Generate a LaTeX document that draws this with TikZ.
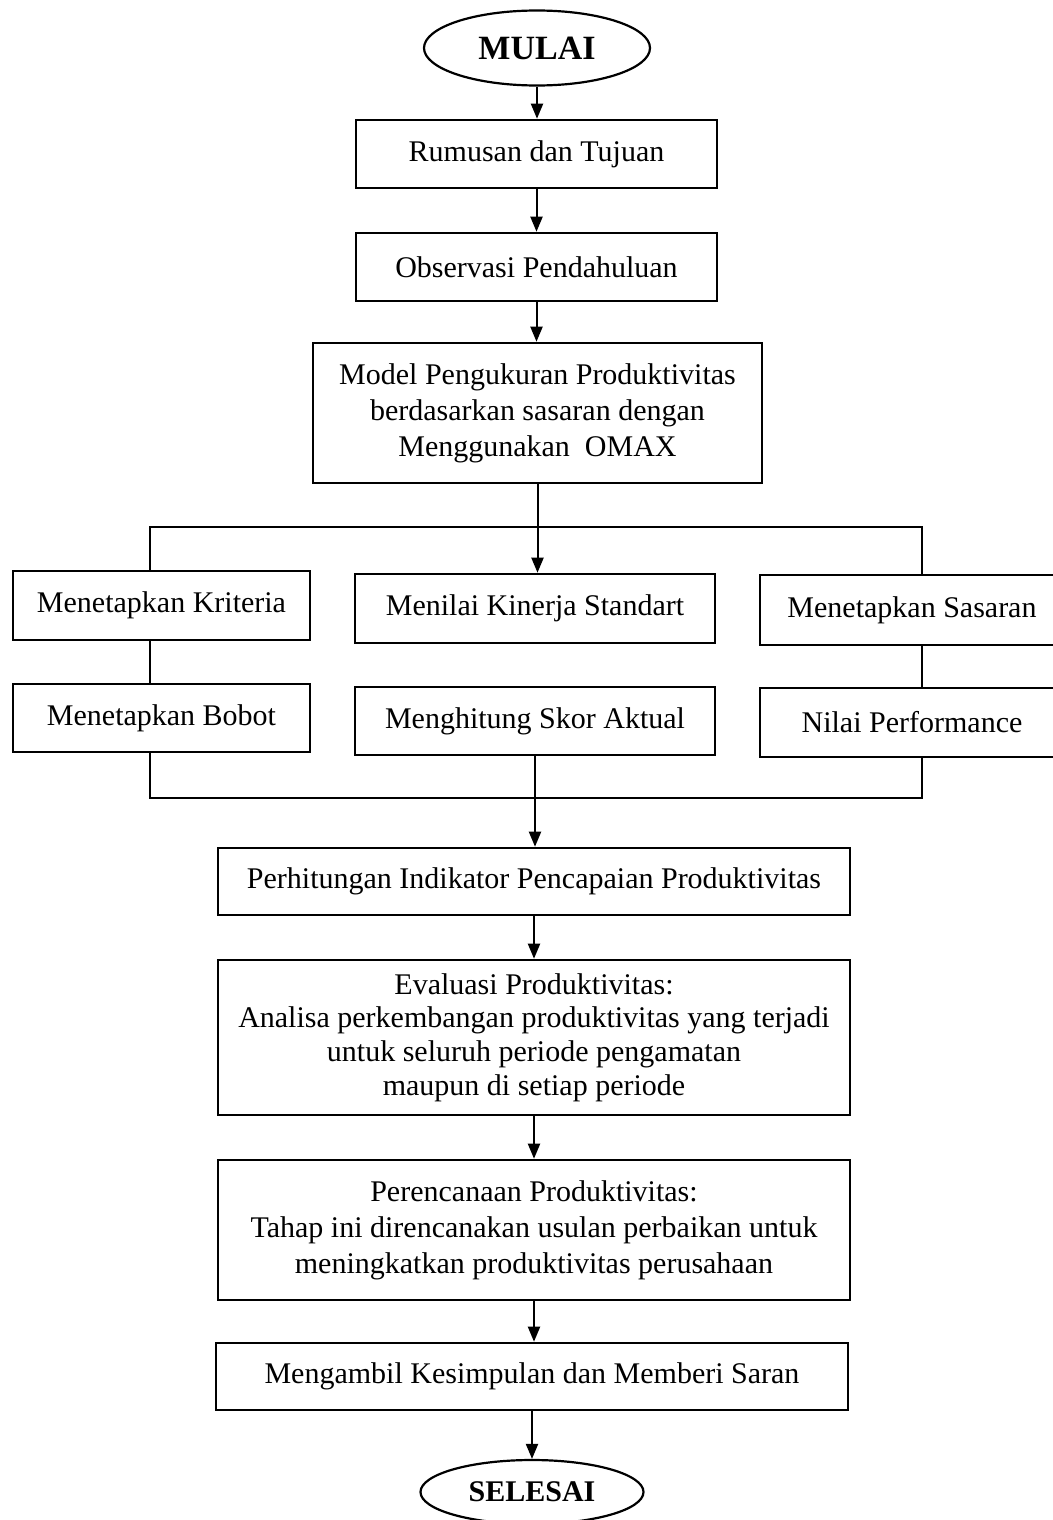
\documentclass[tikz,border=0pt]{standalone}
\usepackage{fontspec}
\setmainfont{Liberation Serif}
\usetikzlibrary{shapes.geometric,arrows.meta}
\begin{document}
\begin{tikzpicture}[x=0.5pt,y=-0.5pt,
  box/.style={draw, line width=1.3pt, align=center, inner sep=0pt, font=\fontsize{15}{18}\selectfont},
  term/.style={draw, ellipse, line width=1.1pt, inner sep=0pt, font=\bfseries},
  arr/.style={line width=1pt, -{Triangle[length=7.5pt,width=6pt]}},
  ln/.style={line width=1pt}]
\useasboundingbox (0,0) rectangle (1053,1520);
\clip (0,0) rectangle (1053,1520);

\node[term, minimum width=113pt, minimum height=37.5pt, font=\bfseries\fontsize{17}{20}\selectfont] (start) at (537,48) {MULAI};
\node[box, minimum width=180.5pt, minimum height=34pt] (b1) at (536.5,154) {Rumusan dan Tujuan};
\node[box, minimum width=180.5pt, minimum height=34pt] (b2) at (536.5,267) {Observasi Pendahuluan};
\node[box, minimum width=224.5pt, minimum height=70pt] (b3) at (537.5,413) {Model Pengukuran Produktivitas\\berdasarkan sasaran dengan\\Menggunakan\ \ OMAX};

\node[box, minimum width=148.5pt, minimum height=34.5pt] (k1) at (161.5,605.5) {Menetapkan Kriteria};
\node[box, minimum width=148.5pt, minimum height=34pt] (k2) at (161.5,718) {Menetapkan Bobot};
\node[box, minimum width=180pt, minimum height=34.5pt] (m1) at (535,608.5) {Menilai Kinerja Standart};
\node[box, minimum width=180pt, minimum height=34pt] (m2) at (535,721) {Menghitung Skor Aktual};
\node[box, minimum width=152pt, minimum height=35pt] (s1) at (912,610) {Menetapkan Sasaran};
\node[box, minimum width=152pt, minimum height=34.5pt] (s2) at (912,722.5) {Nilai Performance};

\node[box, minimum width=316pt, minimum height=33.5pt] (p1) at (534,881.5) {Perhitungan Indikator Pencapaian Produktivitas};
\node[box, minimum width=316pt, minimum height=77.5pt, font=\fontsize{15}{16.8}\selectfont] (p2) at (534,1037.5) {Evaluasi Produktivitas:\\Analisa perkembangan produktivitas yang terjadi\\untuk seluruh periode pengamatan\\maupun di setiap periode};
\node[box, minimum width=316pt, minimum height=70pt] (p3) at (534,1230) {Perencanaan Produktivitas:\\Tahap ini direncanakan usulan perbaikan untuk\\meningkatkan produktivitas perusahaan};
\node[box, minimum width=316pt, minimum height=33.5pt] (p4) at (532,1376.5) {Mengambil Kesimpulan dan Memberi Saran};
\node[term, minimum width=111.5pt, minimum height=32pt, font=\bfseries\fontsize{15}{18}\selectfont] (end) at (532,1492) {SELESAI};

\coordinate (tl) at (150,527);
\coordinate (tr) at (922,527);
\coordinate (bl) at (150,798);
\coordinate (br) at (922,798);

\draw[arr] (start.south) -- (start.south |- b1.north);
\draw[arr] (b1.south) -- (b1.south |- b2.north);
\draw[arr] (b2.south) -- (b2.south |- b3.north);
\draw[arr] (b3.south) -- (b3.south |- m1.north);
\draw[ln] (tl |- k1.north) -- (tl) -- (tr) -- (tr |- s1.north);
\draw[ln] (tl |- k1.south) -- (tl |- k2.north);
\draw[ln] (tr |- s1.south) -- (tr |- s2.north);
\draw[ln] (bl |- k2.south) -- (bl) -- (br) -- (br |- s2.south);
\draw[arr] (m2.south) -- (m2.south |- p1.north);
\draw[arr] (p1.south) -- (p1.south |- p2.north);
\draw[arr] (p2.south) -- (p2.south |- p3.north);
\draw[arr] (p3.south) -- (p3.south |- p4.north);
\draw[arr] (p4.south) -- (p4.south |- end.north);
\end{tikzpicture}
\end{document}
